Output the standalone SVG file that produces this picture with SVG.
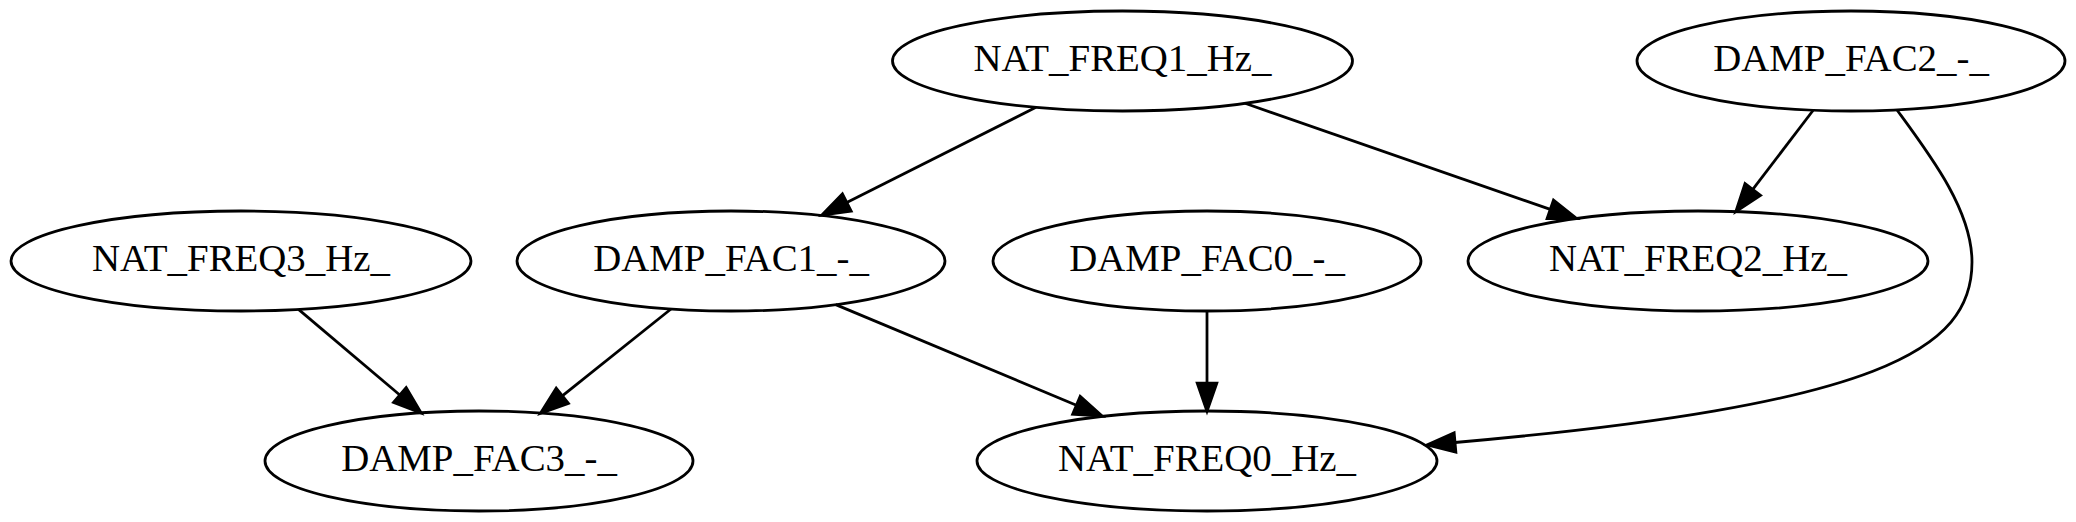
<svg xmlns="http://www.w3.org/2000/svg" width="2076" height="522" viewBox="0 0 2076 522">
<style>
.node ellipse{fill:none;stroke:#000;stroke-width:2.78}
.node text{font-family:"Liberation Serif","Times New Roman",serif;font-size:38.87px;text-anchor:middle;fill:#000}
.edge path{fill:none;stroke:#000;stroke-width:2.78;marker-end:url(#arr)}
</style>
<defs>
<marker id="arr" markerUnits="userSpaceOnUse" markerWidth="28" markerHeight="20" viewBox="0 0 27.8 19.4" refX="0" refY="9.7" orient="auto" overflow="visible">
<path d="M0,0 L27.8,9.7 L0,19.4 Z" fill="#000" stroke="#000" stroke-width="2.78"/>
</marker>
</defs>
<rect width="2076" height="522" fill="#fff"/>
<g id="edges" class="edge">
<path d="M1036,107.3 L846.8,202.5"/>
<path d="M1245,103.3 L1550.3,209.4"/>
<path d="M1813,110.5 L1752.8,189.4"/>
<path d="M1897,110 C1930,155 1972,210 1972,262 C1972,350 1880,405 1455,442.5"/>
<path d="M1207,311 L1207,383.2"/>
<path d="M835.7,304.6 L1076.4,405.3"/>
<path d="M298.5,309.4 L399.8,395"/>
<path d="M671,309 L562.3,395.8"/>
</g>
<g id="NAT_FREQ1_Hz_" class="node"><ellipse cx="1122.5" cy="61" rx="230" ry="50"/><text x="1122.5" y="71.3">NAT_FREQ1_Hz_</text></g>
<g id="DAMP_FAC2_-_" class="node"><ellipse cx="1851" cy="61" rx="214" ry="50"/><text x="1851" y="71.3">DAMP_FAC2_-_</text></g>
<g id="NAT_FREQ3_Hz_" class="node"><ellipse cx="241" cy="261" rx="230" ry="50"/><text x="241" y="271.3">NAT_FREQ3_Hz_</text></g>
<g id="DAMP_FAC1_-_" class="node"><ellipse cx="731" cy="261" rx="214" ry="50"/><text x="731" y="271.3">DAMP_FAC1_-_</text></g>
<g id="DAMP_FAC0_-_" class="node"><ellipse cx="1207" cy="261" rx="214" ry="50"/><text x="1207" y="271.3">DAMP_FAC0_-_</text></g>
<g id="NAT_FREQ2_Hz_" class="node"><ellipse cx="1698" cy="261" rx="230" ry="50"/><text x="1698" y="271.3">NAT_FREQ2_Hz_</text></g>
<g id="DAMP_FAC3_-_" class="node"><ellipse cx="479" cy="461" rx="214" ry="50"/><text x="479" y="471.3">DAMP_FAC3_-_</text></g>
<g id="NAT_FREQ0_Hz_" class="node"><ellipse cx="1207" cy="461" rx="230" ry="50"/><text x="1207" y="471.3">NAT_FREQ0_Hz_</text></g>
</svg>
